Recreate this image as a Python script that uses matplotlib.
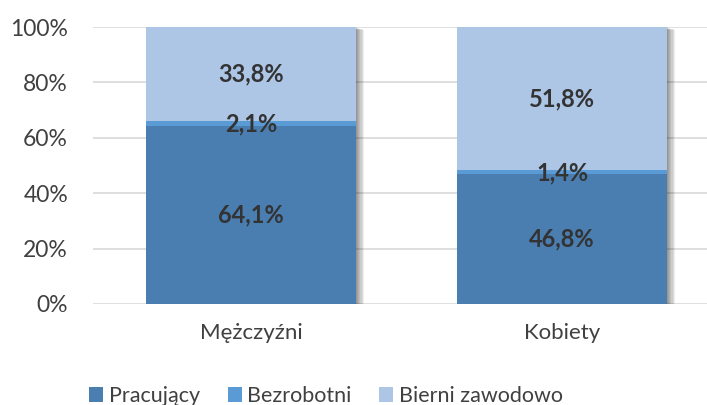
import matplotlib.pyplot as plt
import matplotlib.patheffects as pe
import numpy as np

plt.rcParams['font.family'] = ['Lato', 'DejaVu Sans']

categories = ['Mężczyźni', 'Kobiety']
series_names = ['Pracujący', 'Bezrobotni', 'Bierni zawodowo']
pracujacy = [64.1, 46.8]
bezrobotni = [2.1, 1.4]
bierni = [33.8, 51.8]
yticks = [0, 20, 40, 60, 80, 100]

colors = ['#4a7eb0', '#5b9bd5', '#adc6e6']
values = [pracujacy, bezrobotni, bierni]

fig = plt.figure(figsize=(7.07, 4.05), dpi=100)
ax = fig.add_axes([93 / 707, 101 / 405, 614 / 707, 277 / 405])

x = np.arange(len(categories))
w = 0.675

# soft shadow behind the whole stack
totals = np.sum(values, axis=0)
shadow = [pe.SimplePatchShadow(offset=(d, -d * 0.35), shadow_rgbFace='k', alpha=0.07)
          for d in (0.8, 1.6, 2.4, 3.2, 4.0, 4.8, 5.6)]
ax.bar(x, totals, w, color='white', zorder=2, path_effects=shadow + [pe.Normal()])

bottom = np.zeros(len(categories))
for name, vals, c in zip(series_names, values, colors):
    ax.bar(x, vals, w, bottom=bottom, color=c, label=name, zorder=3)
    for xi, b, v in zip(x, bottom, vals):
        ax.text(xi, b + v / 2, f'{v:.1f}%'.replace('.', ','), ha='center', va='center',
                fontsize=17, fontweight='bold', color='#333333', zorder=5)
    bottom = bottom + np.array(vals)

ax.set_xlim(-0.508, 1.466)
ax.set_ylim(0, 100)
ax.set_yticks(yticks)
ax.set_yticklabels([f'{t}%' for t in yticks])
ax.set_xticks(x)
ax.set_xticklabels(categories)
ax.tick_params(length=0, colors='#404040')
ax.tick_params(axis='y', pad=18, labelsize=16.5)
ax.tick_params(axis='x', pad=14, labelsize=16)
ax.yaxis.grid(True, color='#d9d9d9', lw=1.2, zorder=0)
ax.set_axisbelow(True)
for s in ax.spines.values():
    s.set_visible(False)

fig.legend(loc='center', bbox_to_anchor=(326 / 707, 9 / 405), ncol=3, frameon=False,
           fontsize=15.5, handlelength=0.65, handleheight=0.65, handletextpad=0.25,
           columnspacing=1.3, labelcolor='#404040')

fig.savefig('out.png', dpi=100)
